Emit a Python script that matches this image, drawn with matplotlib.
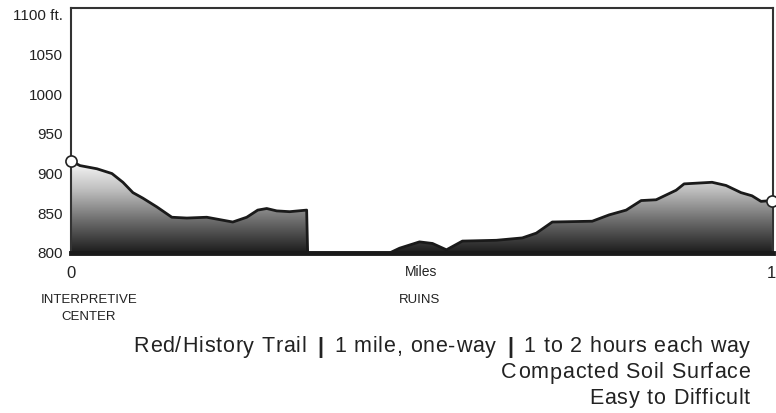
import numpy as np
import matplotlib
matplotlib.use("Agg")
import matplotlib.pyplot as plt
from matplotlib.colors import LinearSegmentedColormap
from matplotlib.font_manager import FontProperties, findfont, get_font

# Data: distance (miles) and elevation (ft)
px = [71, 80, 97, 112, 123, 133, 143, 157, 172, 187, 207, 220, 233, 247, 258, 267, 277, 290, 307,
      308, 390, 400, 420, 433, 447, 463, 497, 523, 537, 553, 593, 610, 627, 642, 657, 677, 685,
      713, 727, 742, 753, 762, 773]
miles = [(p - 71) / 701 for p in px]
elevation = [916, 910, 906, 900, 889, 876, 869, 858, 845, 844, 845, 842, 839, 845, 854, 856, 853, 852, 854,
             800, 800, 806, 814, 812, 804, 815, 816, 819, 825, 839, 840, 848, 854, 866, 867, 879, 887,
             889, 885, 876, 872, 865, 866]
y_ticks = [800, 850, 900, 950, 1000, 1050, 1100]
y_labels = ["800", "850", "900", "950", "1000", "1050", "1100 ft."]
x_ticks = [0, 0.5, 1]
x_labels = ["0", "Miles", "1"]
lines = ["Red/History Trail | 1 mile, one-way | 1 to 2 hours each way",
         "Compacted Soil Surface",
         "Easy to Difficult"]

plt.rcParams['font.family'] = ['Liberation Sans', 'DejaVu Sans']
txt = '#222222'
W, H = 776, 413

fig = plt.figure(figsize=(7.76, 4.13), dpi=100)
ax = fig.add_axes([71/W, (H-253)/H, (773-71)/W, (253-7.5)/H])
ax.set_xlim(0, 1.0029)
ax.set_ylim(800, 1109)

x = np.array(miles)
y = np.array(elevation)
poly = ax.fill_between(x, 800, y, color='none', lw=0)
cmap = LinearSegmentedColormap.from_list('g', ['#1c1c1c', '#6a6a6a', '#bdbdbd', '#ffffff'])
grad = np.linspace(0, 1, 256).reshape(-1, 1)
im = ax.imshow(grad, cmap=cmap, aspect='auto', origin='lower',
               extent=[0, 1.0029, 800, 918], zorder=1)
path = poly.get_paths()[0]
im.set_clip_path(path, transform=ax.transData)
ax.plot(x, y, color='#1a1a1a', lw=2, zorder=3, solid_joinstyle='round')
ax.plot([x[0], x[-1]], [y[0], y[-1]], 'o', ms=8, mfc='white', mec='#222222', mew=1.2,
        zorder=5, clip_on=False)

for s in ['left', 'top', 'right']:
    ax.spines[s].set_color('#333333')
    ax.spines[s].set_linewidth(1.5)
ax.spines['bottom'].set_color('#1a1a1a')
ax.spines['bottom'].set_linewidth(3.5)
ax.spines['bottom'].set_zorder(4)

ax.set_yticks(y_ticks)
ax.set_yticklabels(y_labels, fontsize=11, color=txt)
ax.set_xticks(x_ticks)
ax.set_xticklabels(x_labels, color=txt)
for lab, fs in zip(ax.get_xticklabels(), [12, 10, 12]):
    lab.set_fontsize(fs)
ax.tick_params(length=0)
ax.tick_params(axis='y', pad=6)
ax.tick_params(axis='x', pad=9)

fig.text(89/W, 1 - 300/H, "INTERPRETIVE", ha='center', va='center', fontsize=9.5, color=txt)
fig.text(89/W, 1 - 317/H, "CENTER", ha='center', va='center', fontsize=9.5, color=txt)
fig.text(420/W, 1 - 300/H, "RUINS", ha='center', va='center', fontsize=9.5, color=txt)

# slightly letter-spaced text, right aligned
size = 15.5
track = 0.8
font = get_font(findfont(FontProperties(family='Liberation Sans')))
font.set_size(size, 100)
def advance(c):
    g = font.load_char(ord(c))
    return g.linearHoriAdvance / 65536.0

for yy, t in zip([347, 373, 398], lines):
    advs = []
    for i, c in enumerate(t):
        a = advance(c) + track
        if c == ' ' and ((i + 1 < len(t) and t[i + 1] == '|') or (i > 0 and t[i - 1] == '|')):
            a += 3.5
        advs.append(a)
    total = sum(advs) - track
    xx = 750 - total
    for c, a in zip(t, advs):
        if c != ' ':
            fig.text(xx / W, 1 - yy / H, c, ha='left', va='center', fontsize=size,
                     color=txt, fontweight='bold' if c == '|' else 'normal')
        xx += a

fig.savefig('out.png', dpi=100)
